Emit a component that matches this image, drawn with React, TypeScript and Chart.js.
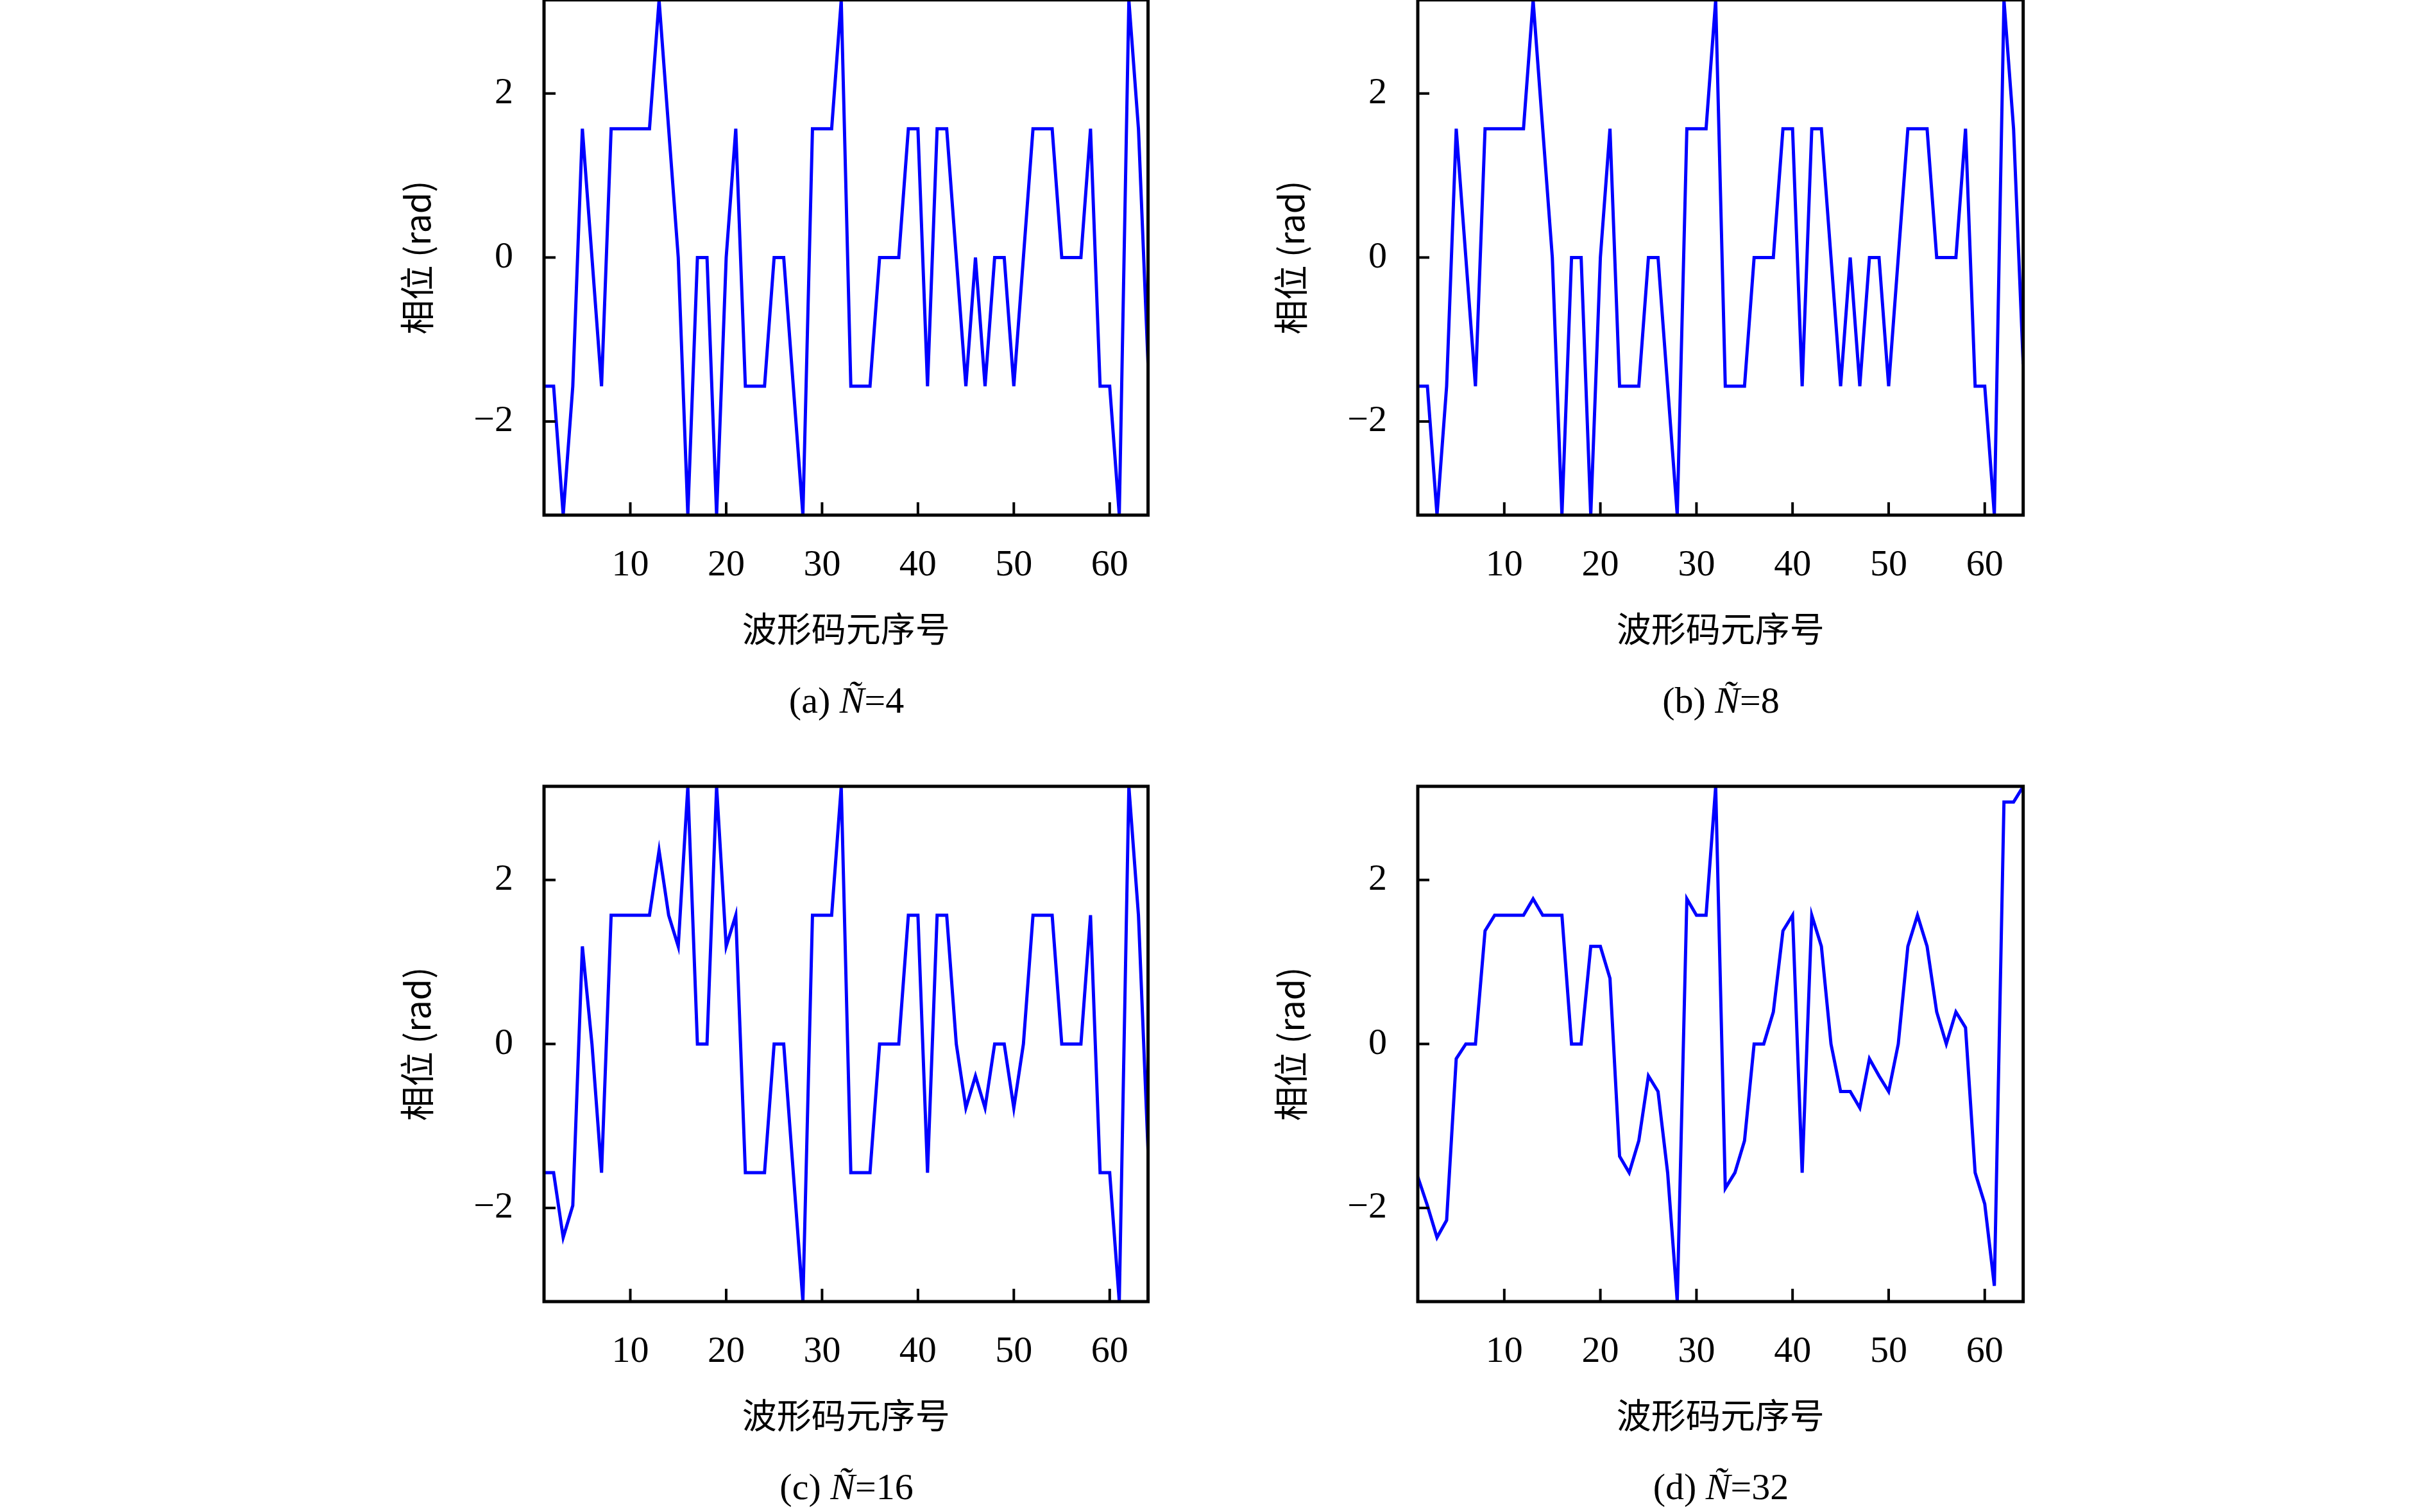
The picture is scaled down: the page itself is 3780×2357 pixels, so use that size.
import React, { useEffect, useRef } from "react";
import { Chart, registerables } from "chart.js";
Chart.register(...registerables);

const PI = Math.PI;
const seriesA: number[] = [
  -1.57, -1.57, -3.14, -1.57, 1.57, 0, -1.57, 1.57, 1.57, 1.57, 1.57, 1.57, 3.14, 1.57, 0, -3.14,
  0, 0, -3.14, 0, 1.57, -1.57, -1.57, -1.57, 0, 0, -1.57, -3.14, 1.57, 1.57, 1.57, 3.14,
  -1.57, -1.57, -1.57, 0, 0, 0, 1.57, 1.57, -1.57, 1.57, 1.57, 0, -1.57, 0, -1.57, 0,
  0, -1.57, 0, 1.57, 1.57, 1.57, 0, 0, 0, 1.57, -1.57, -1.57, -3.14, 3.14, 1.57, -1.3,
];
const seriesB: number[] = [...seriesA];
const seriesC: number[] = [
  -1.57, -1.57, -2.36, -1.97, 1.19, 0, -1.57, 1.57, 1.57, 1.57, 1.57, 1.57, 2.36, 1.57, 1.19, 3.14,
  0, 0, 3.14, 1.19, 1.57, -1.57, -1.57, -1.57, 0, 0, -1.57, -3.14, 1.57, 1.57, 1.57, 3.14,
  -1.57, -1.57, -1.57, 0, 0, 0, 1.57, 1.57, -1.57, 1.57, 1.57, 0, -0.78, -0.39, -0.78, 0,
  0, -0.78, 0, 1.57, 1.57, 1.57, 0, 0, 0, 1.57, -1.57, -1.57, -3.14, 3.14, 1.57, -1.3,
];
const seriesD: number[] = [
  -1.62, -1.97, -2.36, -2.15, -0.18, 0, 0, 1.38, 1.57, 1.57, 1.57, 1.57, 1.77, 1.57, 1.57, 1.57,
  0, 0, 1.19, 1.19, 0.8, -1.37, -1.57, -1.18, -0.39, -0.58, -1.57, -3.14, 1.77, 1.57, 1.57, 3.14,
  -1.76, -1.57, -1.18, 0, 0, 0.39, 1.38, 1.57, -1.57, 1.57, 1.19, 0, -0.58, -0.58, -0.78, -0.18,
  -0.39, -0.58, 0, 1.19, 1.57, 1.19, 0.39, 0, 0.39, 0.2, -1.57, -1.95, -2.95, 2.95, 2.95, 3.14,
];
const xTicks = [10, 20, 30, 40, 50, 60];
const yTicks = [-2, 0, 2];
const captions = ["(a) ", "(b) ", "(c) ", "(d) "];
const nValues = ["4", "8", "16", "32"];
const xTitle = "波形码元序号";
const yTitle = "相位 (rad)";

const SERIF = "'Liberation Serif', 'DejaVu Serif', serif";
const CJK = "'Noto Sans CJK SC', sans-serif";
const Y_W = 250;
const X_H = 210;

const frame = {
  id: "frame",
  afterDatasetsDraw(chart: any) {
    const { ctx, chartArea: a, scales } = chart;
    ctx.save();
    ctx.strokeStyle = "#000";
    ctx.lineWidth = 5;
    ctx.strokeRect(a.left, a.top, a.right - a.left, a.bottom - a.top);
    ctx.lineWidth = 4;
    for (const t of xTicks) {
      const px = scales.x.getPixelForValue(t);
      ctx.beginPath();
      ctx.moveTo(px, a.bottom);
      ctx.lineTo(px, a.bottom - 20);
      ctx.stroke();
    }
    for (const t of yTicks) {
      const py = scales.y.getPixelForValue(t);
      ctx.beginPath();
      ctx.moveTo(a.left, py);
      ctx.lineTo(a.left + 18, py);
      ctx.stroke();
    }
    ctx.restore();
  },
};

function Panel({ values, left, top, w, h }: { values: number[]; left: number; top: number; w: number; h: number }) {
  const ref = useRef<HTMLCanvasElement>(null);
  useEffect(() => {
    const chart = new Chart(ref.current!, {
      type: "line",
      data: {
        datasets: [
          {
            data: values.map((v, i) => ({ x: i + 1, y: v })),
            borderColor: "#0000ff",
            borderWidth: 5,
            pointRadius: 0,
            tension: 0,
          },
        ],
      },
      options: {
        animation: false,
        responsive: false,
        devicePixelRatio: 1,
        layout: { padding: { top: 3, right: 4, left: 0, bottom: 0 } },
        plugins: { legend: { display: false }, tooltip: { enabled: false } },
        scales: {
          x: {
            type: "linear",
            min: 1,
            max: 64,
            afterBuildTicks: (s: any) => { s.ticks = xTicks.map((v) => ({ value: v })); },
            afterFit: (s: any) => { s.height = X_H; },
            grid: { display: false },
            border: { display: false },
            ticks: { color: "#000", font: { family: SERIF, size: 58 }, padding: 36, maxRotation: 0 },
            title: { display: true, text: xTitle, color: "#000", font: { family: CJK, size: 54 }, padding: { top: 2, bottom: 0 } },
          },
          y: {
            min: -PI,
            max: PI,
            afterBuildTicks: (s: any) => { s.ticks = yTicks.map((v) => ({ value: v })); },
            afterFit: (s: any) => { s.width = Y_W; },
            grid: { display: false },
            border: { display: false },
            ticks: {
              color: "#000",
              font: { family: SERIF, size: 58 },
              padding: 40,
              callback: (v: any) => (Number(v) < 0 ? "−" + Math.abs(Number(v)) : String(v)),
            },
            title: { display: true, text: yTitle, color: "#000", font: { family: CJK, size: 54 }, padding: { top: 20, bottom: 0 } },
          },
        },
      },
      plugins: [frame],
    });
    return () => chart.destroy();
  }, []);
  return <canvas ref={ref} width={w} height={h} style={{ position: "absolute", left, top, width: w, height: h }} />;
}

function Caption({ idx, cx, cy }: { idx: number; cx: number; cy: number }) {
  return (
    <div style={{ position: "absolute", left: cx - 300, top: cy - 36, width: 600, textAlign: "center", fontFamily: SERIF, fontSize: 58, color: "#000", lineHeight: "72px" }}>
      {captions[idx]}
      <i>Ñ</i>=<span>{nValues[idx]}</span>
    </div>
  );
}

const TOP_OFF = 72;

export default function App() {
  const panels = [
    { values: seriesA, pl: 848, pr: 1791, pt: 0, cap: 1092 },
    { values: seriesB, pl: 2210, pr: 3155, pt: 0, cap: 1092 },
    { values: seriesC, pl: 848, pr: 1791, pt: 1226, cap: 2318 },
    { values: seriesD, pl: 2210, pr: 3155, pt: 1226, cap: 2318 },
  ];
  return (
    <div style={{ position: "absolute", left: 0, top: 0, width: 3780, height: 2357, background: "#fff", overflow: "hidden" }}>
      {panels.map((p, i) => (
        <React.Fragment key={i}>
          <Panel values={p.values} left={p.pl - Y_W} top={p.pt - 3 - TOP_OFF} w={p.pr - p.pl + Y_W + 4} h={806 + X_H + TOP_OFF} />
          <Caption idx={i} cx={(p.pl + p.pr) / 2} cy={p.cap} />
        </React.Fragment>
      ))}
    </div>
  );
}
